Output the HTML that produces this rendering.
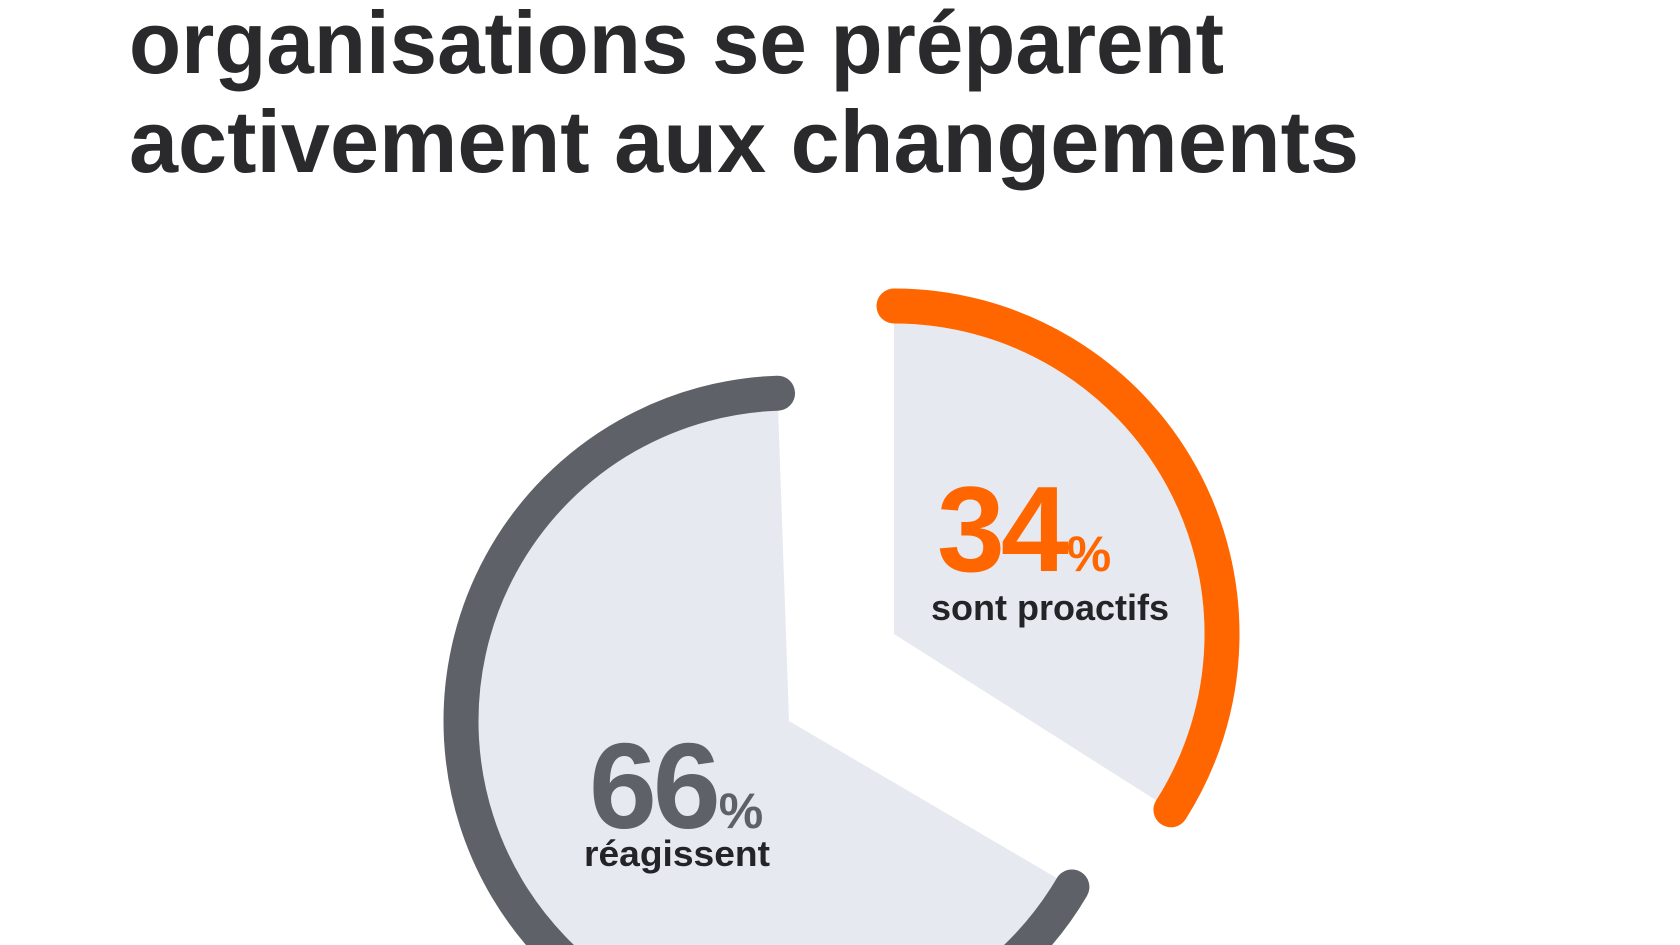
<!DOCTYPE html>
<html><head><meta charset="utf-8"><style>
html,body{margin:0;padding:0;background:#fff;width:1680px;height:945px;overflow:hidden}
svg{display:block;overflow:hidden}
text{font-family:"Liberation Sans",sans-serif;font-weight:700}
</style></head><body>
<svg id="chart" width="1680" height="945" viewBox="0 0 1680 945">
<text x="129" y="73" font-size="88" fill="#2a2a2c" textLength="1095" lengthAdjust="spacingAndGlyphs">organisations se préparent</text>
<text x="129" y="172" font-size="88" fill="#2a2a2c" textLength="1230" lengthAdjust="spacingAndGlyphs">activement aux changements</text>
<g id="slices"></g>
<text x="937" y="571" font-size="122" fill="#ff6600" letter-spacing="-4">34<tspan font-size="50" dx="2" letter-spacing="0">%</tspan></text>
<text x="931" y="620" font-size="36" fill="#222428" textLength="238" lengthAdjust="spacingAndGlyphs">sont proactifs</text>
<text x="589" y="828" font-size="122" fill="#5f6168" letter-spacing="-4">66<tspan font-size="50" dx="2" letter-spacing="0">%</tspan></text>
<text x="584" y="866" font-size="36" fill="#222428" textLength="186" lengthAdjust="spacingAndGlyphs">réagissent</text>
</svg>
<script>
const categories = ["sont proactifs", "réagissent"];
const values = [34, 66];
const colors = ["#ff6600", "#5f6168"];
const ns = "http://www.w3.org/2000/svg";
const g = document.getElementById("slices");
const R = 328, SW = 35;
const centers = [[894, 634], [789, 721]];
const rot = [0, -2];
function pt(cx, cy, r, a) { const t = a * Math.PI / 180; return [cx + r * Math.sin(t), cy - r * Math.cos(t)]; }
const total = values.reduce((a, b) => a + b, 0);
let acc = 0;
values.forEach((v, i) => {
  const a0 = acc / total * 360 + rot[i];
  const a1 = (acc + v) / total * 360 + rot[i];
  acc += v;
  const [cx, cy] = centers[i];
  const large = (a1 - a0) > 180 ? 1 : 0;
  const ri = R - SW / 2;
  const p0 = pt(cx, cy, ri, a0), p1 = pt(cx, cy, ri, a1);
  const fill = document.createElementNS(ns, "path");
  fill.setAttribute("d", `M${cx},${cy} L${p0[0]},${p0[1]} A${ri},${ri} 0 ${large} 1 ${p1[0]},${p1[1]} Z`);
  fill.setAttribute("fill", "#e6e9ef");
  
  
  g.appendChild(fill);
  const q0 = pt(cx, cy, R, a0), q1 = pt(cx, cy, R, a1);
  const arc = document.createElementNS(ns, "path");
  arc.setAttribute("d", `M${q0[0]},${q0[1]} A${R},${R} 0 ${large} 1 ${q1[0]},${q1[1]}`);
  arc.setAttribute("fill", "none");
  arc.setAttribute("stroke", colors[i]);
  arc.setAttribute("stroke-width", SW);
  arc.setAttribute("stroke-linecap", "round");
  
  
  g.appendChild(arc);
});
</script>
</body></html>
